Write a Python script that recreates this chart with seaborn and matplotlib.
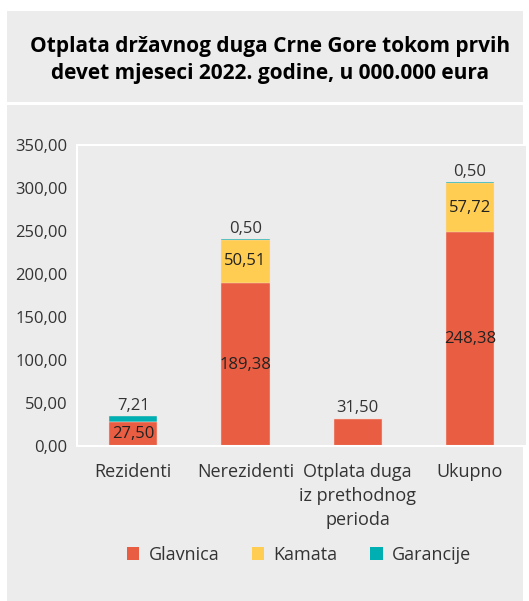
import matplotlib
matplotlib.use("Agg")
import matplotlib.pyplot as plt
from matplotlib.patches import Rectangle, Patch
from matplotlib.ticker import FuncFormatter
import numpy as np
import pandas as pd
import seaborn as sns

# data (u 000.000 eura)
categories = ["Rezidenti", "Nerezidenti", "Otplata duga\niz prethodnog\nperioda", "Ukupno"]
glavnica = [27.50, 189.38, 31.50, 248.38]
kamata = [0.0, 50.51, 0.0, 57.72]
garancije = [7.21, 0.50, 0.0, 0.50]
series_names = ["Glavnica", "Kamata", "Garancije"]
colors = ["#E95E43", "#FECD51", "#00AFB1"]

df = pd.DataFrame({"kategorija": categories, "Glavnica": glavnica,
                   "Kamata": kamata, "Garancije": garancije})
df["c1"] = df["Glavnica"]
df["c2"] = df["c1"] + df["Kamata"]
df["c3"] = df["c2"] + df["Garancije"]

sns.set_theme(style="white")
plt.rcParams["font.family"] = ["Open Sans", "DejaVu Sans"]
txt = "#333333"

fig = plt.figure(figsize=(5.29, 6.01), dpi=100, facecolor="white")
bg = "#ECECEC"
fig.patches.append(Rectangle((7/529, 1-102/601), 516/529, 91/601, transform=fig.transFigure,
                             facecolor=bg, edgecolor="none", zorder=-10))
fig.patches.append(Rectangle((7/529, 0.0), 516/529, 1-105/601, transform=fig.transFigure,
                             facecolor=bg, edgecolor="none", zorder=-10))

ax = fig.add_axes([77/529, 1-446/601, 0.849, 301/601])
ax.set_facecolor(bg)

# stacked bars drawn back to front
for col, c in zip(["c3", "c2", "c1"], colors[::-1]):
    sns.barplot(data=df, x="kategorija", y=col, color=c, width=0.43, ax=ax,
                saturation=1, edgecolor="#f6e3dc", linewidth=0.3)

ax.set_xlim(-0.5, 3.5)
ax.set_ylim(0, 350)
ax.set_yticks(np.arange(0, 351, 50))
ax.yaxis.set_major_formatter(FuncFormatter(lambda v, p: f"{v:.2f}".replace(".", ",")))
ax.set_xlabel("")
ax.set_ylabel("")
for s in ["left", "bottom", "top"]:
    ax.spines[s].set_color("white")
    ax.spines[s].set_linewidth(1.5)
ax.spines["right"].set_visible(False)
ax.tick_params(axis="y", length=5, width=1.5, color="white", labelsize=12, labelcolor=txt, pad=2)
ax.tick_params(axis="x", length=0, labelsize=13, labelcolor=txt, pad=12)
for lab in ax.get_xticklabels():
    lab.set_linespacing(1.45)

# labels
fs = 12
for i in range(len(categories)):
    g, k, z = glavnica[i], kamata[i], garancije[i]
    top = g + k + z
    if k == 0 and z == 0:
        ax.text(i, top + 3, f"{g:.2f}".replace(".", ","), ha="center", va="bottom", fontsize=fs, color=txt)
        continue
    ax.text(i, g / 2, f"{g:.2f}".replace(".", ","), ha="center", va="center", fontsize=fs, color="#222222")
    if k > 0:
        ax.text(i, g + k / 2, f"{k:.2f}".replace(".", ","), ha="center", va="center", fontsize=fs, color="#222222")
    if z > 0:
        ax.text(i, top + 3, f"{z:.2f}".replace(".", ","), ha="center", va="bottom", fontsize=fs, color=txt)

fig.text(0.51, 1-60/601, "Otplata državnog duga Crne Gore tokom prvih\ndevet mjeseci 2022. godine, u 000.000 eura",
         ha="center", va="center", fontsize=15, fontweight="bold", color="black", linespacing=1.4)

handles = [Patch(facecolor=c, edgecolor="none") for c in colors]
fig.legend(handles, series_names, loc="center", bbox_to_anchor=(0.565, 1-555/601), ncol=3,
           frameon=False, fontsize=13, labelcolor=txt, handlelength=0.7, handleheight=0.7,
           handletextpad=0.5, columnspacing=1.8)

fig.savefig("out.png", dpi=100, facecolor="white")
